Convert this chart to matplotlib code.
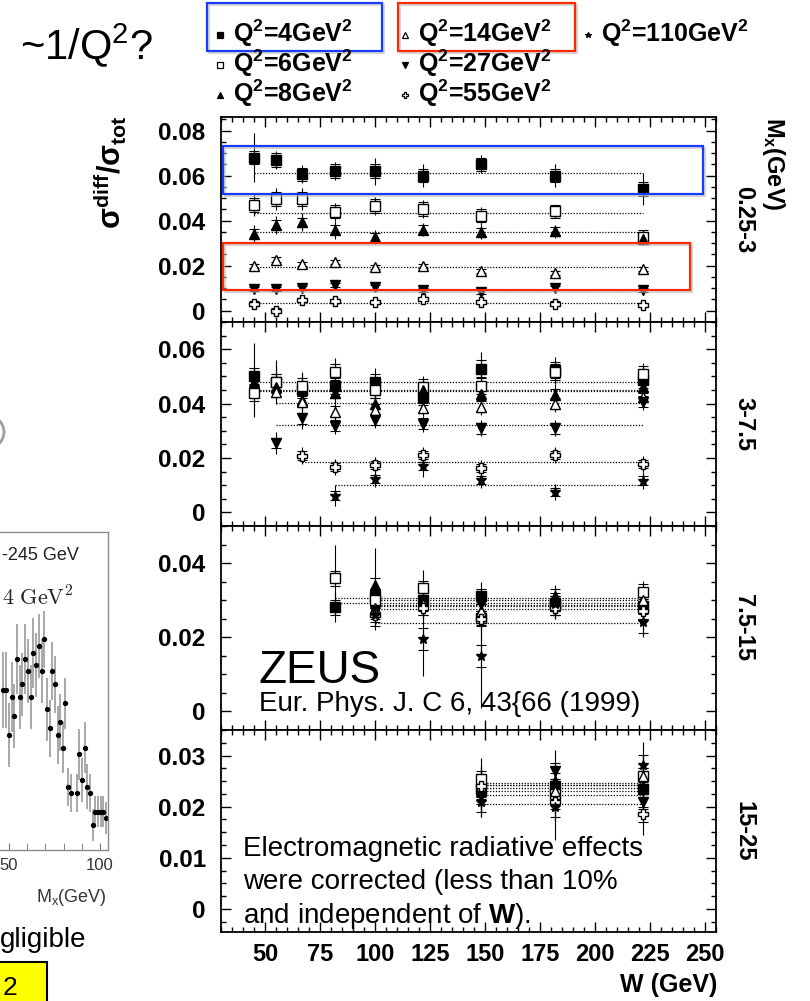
import numpy as np
import matplotlib.pyplot as plt
from matplotlib.patches import Rectangle, Circle
from matplotlib.ticker import MultipleLocator, FixedLocator, FuncFormatter

plt.rcParams['font.family'] = ['Liberation Sans', 'DejaVu Sans']
plt.rcParams['mathtext.fontset'] = 'custom'
plt.rcParams['mathtext.rm'] = 'Liberation Sans'
plt.rcParams['mathtext.it'] = 'Liberation Sans:italic'
plt.rcParams['mathtext.bf'] = 'Liberation Sans:bold'

nan = np.nan

# ---- values (sigma_diff / sigma_tot vs W) ----
Q2 = [4, 6, 8, 14, 27, 55, 110]
MX_BINS = ['0.25-3', '3-7.5', '7.5-15', '15-25']

# M_X 0.25-3 GeV
w_p1 = [45, 55, 67, 82, 100, 122, 148, 182, 222]
p1_q4 = [0.068, 0.067, 0.0605, 0.062, 0.062, 0.060, 0.065, 0.060, 0.054]
p1_q6 = [0.047, 0.0495, 0.0495, 0.044, 0.0466, 0.0451, 0.0422, 0.0441, 0.0327]
p1_q8 = [0.0341, 0.0381, 0.0393, 0.0359, 0.0327, 0.036, 0.0349, 0.0352, 0.032]
p1_q14 = [0.0198, 0.0227, 0.0207, 0.0217, 0.0195, 0.0198, 0.0177, 0.0168, 0.0185]
p1_q27 = [0.0097, 0.0097, 0.0100, 0.0114, 0.0104, 0.0092, 0.0085, 0.0102, 0.0092]
p1_q55 = [0.0031, 0.0001, 0.0048, 0.0044, 0.0038, 0.0053, 0.0038, 0.0031, 0.0026]
p1_q110 = []
p1_stat = [0.003, 0.003, 0.002, 0.001, 0.001, 0.001, 0.0]
p1_tot = [[0.011, 0.004, 0.004, 0.004, 0.006, 0.005, 0.004, 0.005, 0.007],
          [0.005, 0.005, 0.005, 0.004, 0.004, 0.004, 0.004, 0.003, 0.003],
          [0.004, 0.004, 0.004, 0.004, 0.003, 0.003, 0.003, 0.003, 0.003],
          0.002, 0.0015, 0.0015, 0.0]
p1_fit = [0.0612, 0.0434, 0.0349, 0.0192, 0.0092, 0.0034, nan]

# M_X 3-7.5 GeV
w_p2 = [45, 55, 67, 82, 100, 122, 148, 182, 222]
p2_q4 = [0.0501, 0.048, 0.045, 0.0465, 0.048, 0.0426, 0.0529, 0.0523, 0.0487]
p2_q6 = [0.044, 0.048, 0.0465, 0.0517, 0.045, 0.046, 0.0465, 0.0517, 0.0509]
p2_q8 = [0.048, 0.046, 0.0413, 0.044, 0.040, 0.045, 0.0435, 0.0432, 0.046]
p2_q14 = [nan, 0.0444, 0.0407, 0.037, 0.0377, 0.0384, 0.0389, 0.0399, 0.0426]
p2_q27 = [nan, 0.0255, 0.0346, 0.0318, 0.034, 0.0326, 0.031, 0.031, 0.0407]
p2_q55 = [nan, nan, 0.0209, 0.0166, 0.0173, 0.0212, 0.0164, 0.0212, 0.0178]
p2_q110 = [nan, nan, nan, 0.0062, 0.0124, 0.017, 0.012, 0.0074, 0.0117]
p2_stat = [0.003, 0.003, 0.002, 0.002, 0.002, 0.0015, 0.0015]
p2_tot = [[0.012, 0.008, 0.006, 0.005, 0.005, 0.005, 0.006, 0.005, 0.006],
          [0.009, 0.006, 0.005, 0.005, 0.005, 0.004, 0.005, 0.004, 0.004],
          0.004, 0.003,
          [0.0, 0.004, 0.004, 0.003, 0.003, 0.003, 0.003, 0.003, 0.003],
          0.003,
          [0.0, 0.0, 0.0, 0.004, 0.003, 0.004, 0.003, 0.003, 0.003]]
p2_fit = [0.0480, 0.0450, 0.0445, 0.0401, 0.0322, 0.0185, 0.0102]

# M_X 7.5-15 GeV
w_p3 = [82, 100, 122, 148, 182, 222]
p3_q4 = [0.0281, 0.031, 0.030, 0.031, 0.0292, 0.0283]
p3_q6 = [0.0359, 0.030, 0.0332, 0.0252, 0.029, 0.0323]
p3_q8 = [nan, 0.0341, 0.030, 0.027, 0.031, 0.029]
p3_q14 = [nan, 0.028, 0.029, 0.027, 0.029, 0.030]
p3_q27 = [nan, 0.027, 0.028, 0.029, 0.028, 0.027]
p3_q55 = [nan, 0.026, 0.028, 0.025, 0.028, 0.027]
p3_q110 = [nan, 0.026, 0.0196, 0.0149, 0.029, 0.0242]
p3_stat = [0.002, 0.002, 0.002, 0.002, 0.002, 0.002, 0.003]
p3_tot = [0.004,
          [0.009, 0.005, 0.005, 0.007, 0.003, 0.003],
          [0.0, 0.010, 0.004, 0.004, 0.003, 0.003],
          0.003, 0.003, 0.003,
          [0.0, 0.004, 0.010, 0.014, 0.003, 0.004]]
p3_fit = [0.0293, 0.0307, 0.0301, 0.0287, 0.0283, 0.0277, 0.0238]

# M_X 15-25 GeV
w_p4 = [148, 182, 222]
p4_q4 = [0.0234, 0.024, 0.0234]
p4_q6 = [0.0255, 0.0224, 0.026]
p4_q8 = [0.023, 0.025, 0.024]
p4_q14 = [0.024, 0.023, 0.026]
p4_q27 = [0.022, 0.027, 0.021]
p4_q55 = [0.024, 0.021, 0.0185]
p4_q110 = [0.021, 0.020, 0.0282]
p4_stat = [0.0015, 0.0015, 0.0015, 0.0015, 0.0015, 0.0015, 0.002]
p4_tot = [0.004, 0.004, 0.004, 0.004, 0.004, 0.004, [0.003, 0.0065, 0.0045]]
p4_fit = [0.0236, 0.0247, 0.0242, 0.0242, 0.0230, 0.0205, 0.0222]

# inset (partially visible on the left edge): M_X distribution
mx_inset = [46.8, 48.6, 50.0, 51.6, 53.0, 54.4, 56.0, 57.4, 58.9, 60.5, 61.9, 63.3, 64.9,
            66.3, 67.9, 69.3, 70.9, 72.3, 73.8, 75.2, 76.8, 78.2, 79.6, 81.0, 82.6, 84.0,
            87.1, 88.7, 90.1, 91.5, 92.9, 94.5, 95.9, 97.3, 98.9, 100.4, 101.8, 103.4]
val_inset = [0.503, 0.503, 0.362, 0.482, 0.421, 0.601, 0.482, 0.521, 0.601, 0.563, 0.482,
             0.621, 0.582, 0.642, 0.563, 0.663, 0.442, 0.383, 0.563, 0.521, 0.362, 0.402,
             0.322, 0.461, 0.199, 0.180, 0.180, 0.301, 0.220, 0.322, 0.199, 0.180, 0.079,
             0.121, 0.121, 0.121, 0.121, 0.100]
err_inset = [0.12, 0.12, 0.10, 0.11, 0.10, 0.11, 0.10, 0.10, 0.11, 0.10, 0.10, 0.11, 0.10,
             0.10, 0.10, 0.09, 0.10, 0.09, 0.09, 0.09, 0.09, 0.09, 0.08, 0.08, 0.06, 0.06,
             0.06, 0.08, 0.07, 0.08, 0.07, 0.06, 0.05, 0.05, 0.05, 0.05, 0.05, 0.05]

panels = [
    (w_p1, [p1_q4, p1_q6, p1_q8, p1_q14, p1_q27, p1_q55, p1_q110], p1_stat, p1_tot, p1_fit),
    (w_p2, [p2_q4, p2_q6, p2_q8, p2_q14, p2_q27, p2_q55, p2_q110], p2_stat, p2_tot, p2_fit),
    (w_p3, [p3_q4, p3_q6, p3_q8, p3_q14, p3_q27, p3_q55, p3_q110], p3_stat, p3_tot, p3_fit),
    (w_p4, [p4_q4, p4_q6, p4_q8, p4_q14, p4_q27, p4_q55, p4_q110], p4_stat, p4_tot, p4_fit),
]

# ---- styles / layout ----
MARKERS = ['s', 's', '^', '^', 'v', 'P', '*']
FILLED = [True, False, True, False, True, False, True]
SIZES = [6.5, 6.5, 7, 7, 7, 7.5, 7.5]
YLIMS = [(-0.005, 0.086), (-0.005, 0.07), (-0.005, 0.05), (-0.0045, 0.035)]
YSTEP = [0.02, 0.02, 0.02, 0.01]
YMAX_TICK = [0.08, 0.06, 0.04, 0.03]

FW, FH = 810, 1001
fig = plt.figure(figsize=(FW / 100, FH / 100), dpi=100)


def px_box(x0, y0, x1, y1):
    return [x0 / FW, 1 - y1 / FH, (x1 - x0) / FW, (y1 - y0) / FH]


edges = [117, 322, 526, 730, 932]
fmt = FuncFormatter(lambda v, _: '0' if abs(v) < 1e-9 else '%.2f' % v)

for i, (w, vals, stats, tots, fits) in enumerate(panels):
    ax = fig.add_axes(px_box(221, edges[i], 716, edges[i + 1]))
    x_all = np.array(w, dtype=float)
    for k in range(len(Q2)):
        v = np.array(vals[k], dtype=float)
        if v.size == 0:
            continue
        m = ~np.isnan(v)
        st = np.broadcast_to(np.array(stats[k], dtype=float), v.shape)[m]
        tt = np.broadcast_to(np.array(tots[k], dtype=float), v.shape)[m]
        x = x_all[m]
        ax.plot([x[0], x[-1]], [fits[k], fits[k]], ls=(0, (1, 1.3)), color='k', lw=0.9, zorder=1)
        ax.errorbar(x, v[m], yerr=tt, fmt='none', ecolor='k', elinewidth=0.8, zorder=2)
        ax.errorbar(x, v[m], yerr=st, fmt='none', ecolor='k', elinewidth=0.8,
                    capsize=3.5, capthick=0.8, zorder=2)
        ax.plot(x, v[m], ls='none', marker=MARKERS[k], ms=SIZES[k],
                mfc='k' if FILLED[k] else 'white', mec='k', mew=1.0, zorder=3)

    ax.set_xlim(30, 255)
    ax.set_ylim(*YLIMS[i])
    ax.xaxis.set_major_locator(MultipleLocator(25))
    ax.xaxis.set_minor_locator(MultipleLocator(5))
    ax.yaxis.set_major_locator(FixedLocator(np.arange(0, YMAX_TICK[i] + 1e-6, YSTEP[i])))
    ax.yaxis.set_minor_locator(MultipleLocator(YSTEP[i] / 4))
    ax.yaxis.set_major_formatter(fmt)
    ax.tick_params(which='both', direction='in', top=True, right=True, width=1)
    ax.tick_params(which='major', length=7)
    ax.tick_params(which='minor', length=3.5)
    ax.tick_params(axis='y', pad=11, labelsize=17.5)
    ax.tick_params(axis='x', pad=8, labelsize=17)
    for lab in ax.get_yticklabels() + ax.get_xticklabels():
        lab.set_fontweight('bold')
    for s in ax.spines.values():
        s.set_linewidth(1.3)
    if i < 3:
        ax.tick_params(axis='x', labelbottom=False)
    fig.text(744 / FW, 1 - (edges[i] + edges[i + 1]) / 2 / FH, MX_BINS[i], rotation=-90,
             ha='center', va='center', fontsize=17, fontweight='bold')

    if i == 2:
        ax.text(259 / FW, 1 - 683 / FH, 'ZEUS', transform=fig.transFigure, fontsize=33,
                va='baseline')
        ax.text(259 / FW, 1 - 711 / FH, 'Eur. Phys. J. C 6, 43{66 (1999)',
                transform=fig.transFigure, fontsize=20, va='baseline')
    if i == 3:
        ax.text(243 / FW, 1 - 856 / FH, 'Electromagnetic radiative effects',
                transform=fig.transFigure, fontsize=20, va='baseline')
        ax.text(243 / FW, 1 - 889 / FH, 'were corrected (less than 10%',
                transform=fig.transFigure, fontsize=20, va='baseline')
        ax.text(243 / FW, 1 - 923 / FH, r'and independent of $\mathbf{W}$).',
                transform=fig.transFigure, fontsize=20, va='baseline')

fig.text(773 / FW, 1 - 117 / FH, r'M$_\mathbf{x}$(GeV)', rotation=-90, ha='center', va='top',
         fontsize=17, fontweight='bold')
fig.text(110 / FW, 1 - 172 / FH, r'$\mathbf{\sigma^{diff}/\sigma_{tot}}$', rotation=90,
         ha='center', va='center', fontsize=22, fontweight='bold')
fig.text(717 / FW, 1 - 985 / FH, 'W (GeV)', ha='right', va='center', fontsize=18,
         fontweight='bold')

# ---- inset on the left edge ----
ins = fig.add_axes(px_box(-82, 532, 108, 850))
ins.errorbar(mx_inset, val_inset, yerr=err_inset, fmt='o', ms=2.8, color='k',
             ecolor='#9a9a9a', elinewidth=1.2)
ins.set_xlim(0.0, 104.4)
ins.set_ylim(0, 1)
ins.spines['left'].set_visible(False)
for s in ['top', 'right', 'bottom']:
    ins.spines[s].set_color('#8a8a8a')
    ins.spines[s].set_linewidth(1)
ins.xaxis.set_major_locator(FixedLocator([50, 100]))
ins.xaxis.set_minor_locator(MultipleLocator(10))
ins.tick_params(which='both', direction='in', length=5, color='#777777', labelsize=12,
                labelcolor='#333333', pad=6)
ins.set_yticks([])
for lab in ins.get_xticklabels():
    lab.set_family(['Liberation Sans Narrow', 'Liberation Sans'])
fig.text(2 / FW, 1 - 556 / FH, '-245 GeV', fontsize=13, va='center', color='#222222',
         family=['Liberation Sans Narrow', 'Liberation Sans'])
fig.text(2 / FW, 1 - 598 / FH, r'$4\ \mathrm{GeV}^2$', fontsize=16, va='center',
         color='#222222', math_fontfamily='cm')
fig.text(107 / FW, 1 - 897 / FH, r'M$_\mathrm{x}$(GeV)', fontsize=13, ha='right',
         va='center', color='#333333', family=['Liberation Sans Narrow', 'Liberation Sans'])

# ---- overlay: legend, highlight boxes, slide text ----
ov = fig.add_axes([0, 0, 1, 1])
ov.set_xlim(0, FW)
ov.set_ylim(FH, 0)
ov.axis('off')

ov.text(20, 45, r'~1/Q$^2$?', fontsize=30, va='center')

leg_pos = [(220, 42), (220, 72), (220, 102), (405, 42), (405, 72), (405, 102), (588, 42)]
for k, (lx, ly) in enumerate(leg_pos):
    ov.plot(lx, ly - 7, marker=MARKERS[k], ms=4.2, ls='none',
            mfc='k' if FILLED[k] else 'white', mec='k', mew=0.9)
    ov.text(lx + 13, ly, r'Q$^\mathbf{2}$=%dGeV$^\mathbf{2}$' % Q2[k], fontsize=18,
            fontweight='bold', va='baseline')

for (x0, y0, x1, y1, col) in [(207, 3, 382, 51, '#1a3cff'), (398, 3, 575, 51, '#ff2a00'),
                              (223, 146, 703, 194, '#1a3cff'), (223, 243, 690, 290, '#ff2a00')]:
    ov.add_patch(Rectangle((x0 + 2, y0 + 2), x1 - x0, y1 - y0, fill=False, ec='#bbbbbb',
                           lw=1.5, alpha=0.6))
    ov.add_patch(Rectangle((x0, y0), x1 - x0, y1 - y0, fill=False, ec=col, lw=1.6))

ov.add_patch(Circle((-12, 432), 16, fill=False, ec='#a0a0a0', lw=2))
ov.text(0, 947, 'gligible', fontsize=20, va='baseline')
ov.add_patch(Rectangle((-3, 962), 50, 45, fc='#ffff00', ec='k', lw=1.5))
ov.text(3, 995, '2', fontsize=19, va='baseline')

fig.savefig('out.png', dpi=100)
